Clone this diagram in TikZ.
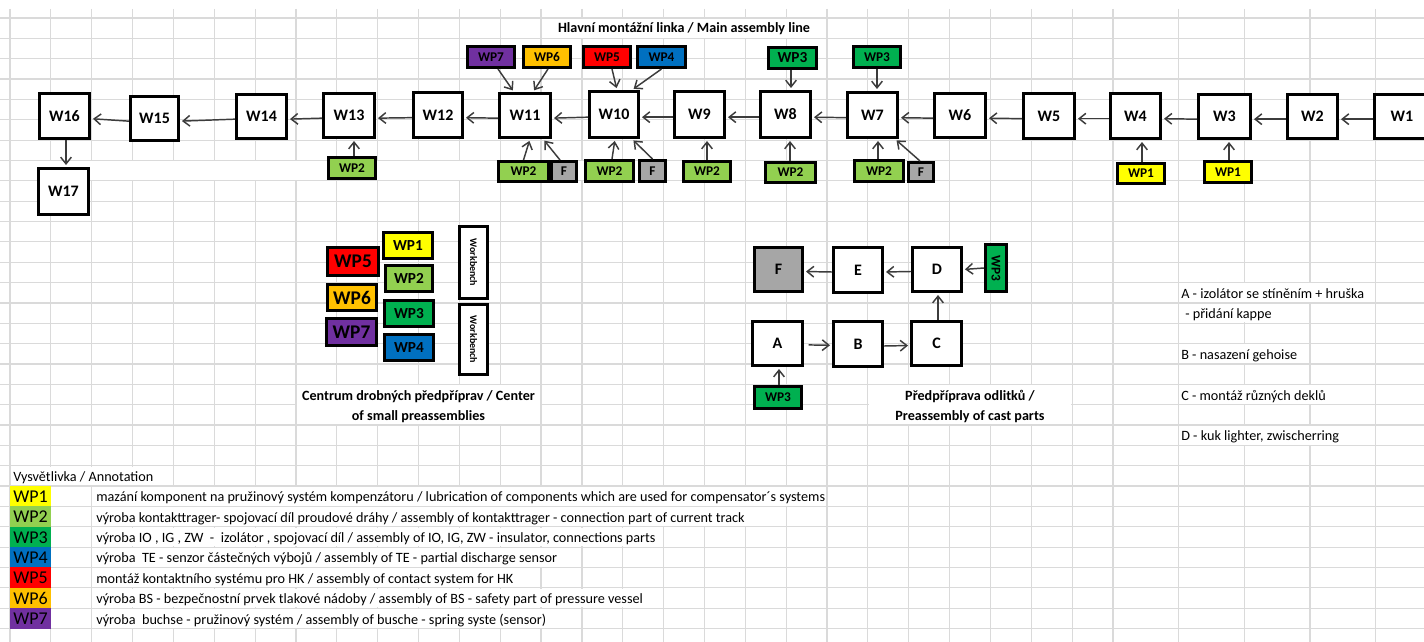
\documentclass[tikz,border=0pt]{standalone}
\usepackage{graphicx}
\usepackage{fontspec}
\setmainfont{Carlito}
\usetikzlibrary{arrows.meta,calc}

\definecolor{gridc}{RGB}{218,218,218}
\definecolor{wpa}{HTML}{FFFF00}
\definecolor{wpb}{HTML}{92D050}
\definecolor{wpc}{HTML}{00B050}
\definecolor{wpd}{HTML}{0070C0}
\definecolor{wpe}{HTML}{FF0000}
\definecolor{wpf}{HTML}{FFC000}
\definecolor{wpg}{HTML}{7030A0}
\definecolor{fgray}{HTML}{A6A6A6}
\definecolor{arrc}{HTML}{3C3C3C}

% box given by its outer corners (x1,y1)-(x2,y2) in pixel units
\newcommand\bx[7][]{%
  \pgfmathsetmacro\bw{(#5-#3-2.6)*0.75}%
  \pgfmathsetmacro\bh{(#6-#4-2.6)*0.75}%
  \node[box,minimum width=\bw pt,minimum height=\bh pt,#1] (#2) at ({(#3+#5)/2},{(#4+#6)/2}) {#7};}

% hide the grid lines inside rows r1..r2 between x1 and x2 (text overflow / merged cells)
\newcommand\hidecells[4]{%
  \fill[white] ({#3+0.8},{18+20.35*#1+0.8}) rectangle ({#4-0.8},{18+20.35*(#2+1)-0.8});}

\begin{document}
\begin{tikzpicture}[x=0.75pt,y=-0.75pt,
  gridline/.style={draw=gridc,line width=0.9pt},
  box/.style={draw=black,line width=1.95pt,fill=white,inner sep=0pt,rectangle},
  wl/.style={font=\fontsize{12}{14}\selectfont\bfseries},
  wp/.style={font=\fontsize{10}{12}\selectfont\bfseries},
  wpbig/.style={font=\fontsize{14.5}{16}\selectfont\bfseries},
  wpmid/.style={font=\fontsize{11.5}{13}\selectfont\bfseries},
  lbl/.style={font=\fontsize{10.6}{15.2}\selectfont\bfseries,align=center,inner sep=0pt},
  txt/.style={font=\fontsize{10.65}{12}\selectfont,anchor=base west,inner sep=0pt},
  arr/.style={draw=arrc,line width=1.1pt,-{Straight Barb[length=5pt,width=8pt,line width=1.1pt]},shorten >=1.5pt}]
\useasboundingbox (0,0) rectangle (1424,642);
\clip (0,0) rectangle (1424,642);
\fill[white] (0,0) rectangle (1424,642);

% ---------- sheet grid ----------
\foreach \k in {0,...,27} \draw[gridline] ({10+40.85*\k},9) -- ({10+40.85*\k},642);
\foreach \xx in {1178.6,1244.3,1309.9,1375.6} \draw[gridline] (\xx,9) -- (\xx,642);
\foreach \r in {0,...,30} \draw[gridline] (0,{18+20.35*\r}) -- (1424,{18+20.35*\r});

% cells covered by text
\hidecells{0}{0}{541.05}{827}
\hidecells{7}{7}{10}{745.3}
\hidecells{18}{19}{295.95}{541.05}
\hidecells{18}{19}{867.85}{1072.1}
\hidecells{13}{13}{1178.6}{1375.6}
\hidecells{14}{14}{1178.6}{1309.9}
\hidecells{16}{16}{1178.6}{1309.9}
\hidecells{18}{18}{1178.6}{1375.6}
\hidecells{20}{20}{1178.6}{1375.6}
\hidecells{22}{22}{10}{173.4}
\hidecells{23}{23}{91.7}{827}
\hidecells{24}{24}{91.7}{786.15}
\hidecells{25}{25}{91.7}{663.6}
\hidecells{26}{26}{91.7}{581.9}
\hidecells{27}{27}{91.7}{541.05}
\hidecells{28}{28}{91.7}{663.6}
\hidecells{29}{29}{91.7}{581.9}

% ---------- main assembly line ----------
\node[lbl] (title) at (684,28.5) {Hlavní montážní linka / Main assembly line};

\bx[wl]{W16}{38}{92}{91}{140}{W16}
\bx[wl]{W15}{129}{95}{180}{142}{W15}
\bx[wl]{W14}{235}{93}{288}{140}{W14}
\bx[wl]{W13}{322}{92}{376}{139}{W13}
\bx[wl]{W12}{412}{91}{464}{139}{W12}
\bx[wl]{W11}{498}{92}{552}{139}{W11}
\bx[wl]{W10}{588}{90}{640}{139}{W10}
\bx[wl]{W9}{673}{90}{726}{139}{W9}
\bx[wl]{W8}{759}{90}{812}{139}{W8}
\bx[wl]{W7}{846}{91}{899}{139}{W7}
\bx[wl]{W6}{933}{92}{987}{139}{W6}
\bx[wl]{W5}{1022}{92}{1076}{140}{W5}
\bx[wl]{W4}{1109}{92}{1162}{140}{W4}
\bx[wl]{W3}{1197}{93}{1252}{140}{W3}
\bx[wl]{W2}{1286}{93}{1339}{140}{W2}
\bx[wl,text width=53*0.75pt,align=center]{W1}{1373}{93}{1431}{140}{W1}
\bx[wl]{W17}{37}{167}{90}{216}{W17}

% work packages feeding the line from above
\bx[wp,fill=wpg]{tWPg}{466}{45}{516}{69}{WP7}
\bx[wp,fill=wpf]{tWPf}{522}{45}{572}{69}{WP6}
\bx[wp,fill=wpe]{tWPe}{582}{45}{632}{69}{WP5}
\bx[wp,fill=wpd]{tWPd}{636}{45}{687}{69}{WP4}
\bx[wpmid,fill=wpc]{tWPc}{767}{46}{818}{70}{WP3}
\bx[wp,fill=wpc]{tWPcc}{852}{45}{902}{69}{WP3}

% work packages feeding the line from below
\bx[wp,fill=wpb]{bWPa}{327}{156}{377}{180}{WP2}
\bx[wp,fill=wpb]{bWPb}{497}{160}{550}{183}{WP2}
\bx[wp,fill=fgray]{bFa}{550}{160}{578}{183}{F}
\bx[wp,fill=wpb]{bWPc}{584}{159}{635}{183}{WP2}
\bx[wp,fill=fgray]{bFb}{638}{159}{667}{183}{F}
\bx[wp,fill=wpb]{bWPd}{682}{160}{732}{183}{WP2}
\bx[wp,fill=wpb]{bWPe}{764}{161}{817}{184}{WP2}
\bx[wp,fill=wpb]{bWPf}{853}{159}{905}{183}{WP2}
\bx[wp,fill=fgray]{bFc}{907}{161}{935}{183}{F}
\bx[wp,fill=wpa]{bWPg}{1116}{162}{1166}{185}{WP1}
\bx[wp,fill=wpa]{bWPh}{1203}{160}{1253}{184}{WP1}

% line flow
\foreach \a/\b in {W1/W2,W2/W3,W3/W4,W4/W5,W5/W6,W6/W7,W7/W8,W8/W9,W9/W10,W10/W11,W11/W12,W12/W13,W13/W14,W14/W15,W15/W16}
  \draw[arr] ([yshift=-2pt]\a.west) -- ([yshift=-2pt]\b.east);
\draw[arr] ([shift={(1.5,0)}]W16.south) -- ([shift={(2.5,0)}]W17.north);

\draw[arr] ([shift={(7,0)}]tWPg.south) -- ([shift={(-11,0)}]W11.north);
\draw[arr] ([shift={(1,0)}]tWPf.south) -- ([shift={(8,0)}]W11.north);
\draw[arr] ([shift={(5,0)}]tWPe.south) -- ([shift={(3,0)}]W10.north);
\draw[arr] (tWPd.south) -- ([shift={(18,0)}]W10.north);
\draw[arr] ([shift={(-1.5,0)}]tWPc.south) -- ([shift={(5.5,0)}]W8.north);
\draw[arr] (tWPcc.south) -- ([shift={(4.5,0)}]W7.north);

\draw[arr] ([shift={(2,0)}]bWPa.north) -- ([shift={(5,0)}]W13.south);
\draw[arr] (bWPb.north) -- ([shift={(5,0)}]W11.south);
\draw[arr] ([shift={(-4,0)}]bFa.north) -- ([shift={(18,0)}]W11.south);
\draw[arr] ([shift={(2.5,0)}]bWPc.north) -- ([shift={(1,0)}]W10.south);
\draw[arr] (bFb.north) -- ([shift={(18,0)}]W10.south);
\draw[arr] (bWPd.north) -- ([shift={(7.5,0)}]W9.south);
\draw[arr] ([shift={(-0.5,0)}]bWPe.north) -- ([shift={(4.5,0)}]W8.south);
\draw[arr] ([shift={(-1,0)}]bWPf.north) -- ([shift={(5.5,0)}]W7.south);
\draw[arr] ([shift={(-1,0)}]bFc.north) -- ([shift={(22.5,0)}]W7.south);
\draw[arr] ([shift={(1,0)}]bWPg.north) -- ([shift={(6.5,0)}]W4.south);
\draw[arr] ([shift={(1,0)}]bWPh.north) -- ([shift={(4.5,0)}]W3.south);

% ---------- centre of small preassemblies ----------
\bx[wpmid,fill=wpa]{cWPa}{382}{231}{434}{260}{WP1}
\bx[wpmid,fill=wpb]{cWPb}{384}{264}{434}{293}{WP2}
\bx[wpmid,fill=wpc]{cWPc}{383}{299}{435}{328}{WP3}
\bx[wpmid,fill=wpd]{cWPd}{383}{333}{435}{362}{WP4}
\bx[wpbig,fill=wpe]{cWPe}{326}{246}{380}{277}{WP5}
\bx[wpbig,fill=wpf]{cWPf}{326}{283}{378}{312}{WP6}
\bx[wpbig,fill=wpg]{cWPg}{325}{317}{378}{347}{WP7}
\bx[font=\fontsize{7.5}{8}\selectfont\bfseries]{bench1}{458}{225}{489}{300}{\rotatebox{-90}{Workbench}}
\bx[font=\fontsize{7.5}{8}\selectfont\bfseries]{bench2}{458}{303}{489}{376}{\rotatebox{-90}{Workbench}}
\node[lbl] (cenlbl) at (418.5,407) {Centrum drobných předpříprav / Center\\of small preassemblies};

% ---------- preassembly of cast parts ----------
\bx[wl,fill=fgray]{pF}{753}{246}{804}{293}{F}
\bx[wl]{pE}{832}{246}{884}{294}{E}
\bx[wl]{pD}{911}{246}{963}{293}{D}
\bx[wp,fill=wpc]{pWPr}{984}{243}{1008}{293}{\rotatebox{-90}{WP3}}
\bx[wl]{pA}{751}{320}{804}{367}{A}
\bx[wl]{pB}{832}{320}{884}{368}{B}
\bx[wl]{pC}{910}{320}{963}{367}{C}
\bx[wp,fill=wpc]{pWPb}{753}{385}{803}{410}{WP3}

\draw[arr] ([yshift=-1.5pt]pE.west) -- ([yshift=-1.5pt]pF.east);
\draw[arr] ([yshift=-1.5pt]pD.west) -- ([yshift=-1.5pt]pE.east);
\draw[arr] (pWPr.west) -- (pD.east);
\draw[arr] ([shift={(1.5,0)}]pC.north) -- ([shift={(1,0)}]pD.south);
\draw[arr,shorten <=3.5pt] ([yshift=-1pt]pA.east) -- ([yshift=-1pt]pB.west);
\draw[arr] ([yshift=-1.5pt]pB.east) -- ([yshift=-1.5pt]pC.west);
\draw[arr] ([shift={(1,0)}]pWPb.north) -- ([shift={(1.5,0)}]pA.south);
\node[lbl] (castlbl) at (970,406.5) {Předpříprava odlitků /\\Preassembly of cast parts};

% ---------- notes on the cast-part stations ----------
\node[txt] (nA) at (1181,298.4) {A - izolátor se stíněním + hruška};
\node[txt] (nA2) at (1185,318.75) {- přidání kappe};
\node[txt] (nB) at (1181,359.5) {B - nasazení gehoise};
\node[txt] (nC) at (1181,400.2) {C - montáž různých deklů};
\node[txt] (nD) at (1181,440.9) {D - kuk lighter, zwischerring};

% ---------- legend ----------
\node[txt] (legtitle) at (13,481.6) {Vysvětlivka / Annotation};
\foreach \c [count=\i from 0] in {wpa,wpb,wpc,wpd,wpe,wpf,wpg}
  \fill[\c] (10,{486.05+20.35*\i}) rectangle (50.85,{506.4+20.35*\i});
\foreach \t [count=\i from 0] in {WP1,WP2,WP3,WP4,WP5,WP6,WP7}
  \node[txt,font=\fontsize{13.5}{14}\selectfont] (leg\t) at (13,{502.4+20.35*\i}) {\t};
\node[txt] (d1) at (96,501.9) {mazání komponent na pružinový systém kompenzátoru / lubrication of components which are used for compensator´s systems};
\node[txt] (d2) at (96,522.25) {výroba kontakttrager- spojovací díl proudové dráhy / assembly of kontakttrager - connection part of current track};
\node[txt] (d3) at (96,542.6) {výroba IO , IG , ZW \ - \ izolátor , spojovací díl / assembly of IO, IG, ZW - insulator, connections parts};
\node[txt] (d4) at (96,562.95) {výroba \ TE - senzor částečných výbojů / assembly of TE - partial discharge sensor};
\node[txt] (d5) at (96,583.3) {montáž kontaktního systému pro HK / assembly of contact system for HK};
\node[txt] (d6) at (96,603.65) {výroba BS - bezpečnostní prvek tlakové nádoby / assembly of BS - safety part of pressure vessel};
\node[txt] (d7) at (96,624) {výroba \ buchse - pružinový systém / assembly of busche - spring syste (sensor)};
\end{tikzpicture}
\end{document}
